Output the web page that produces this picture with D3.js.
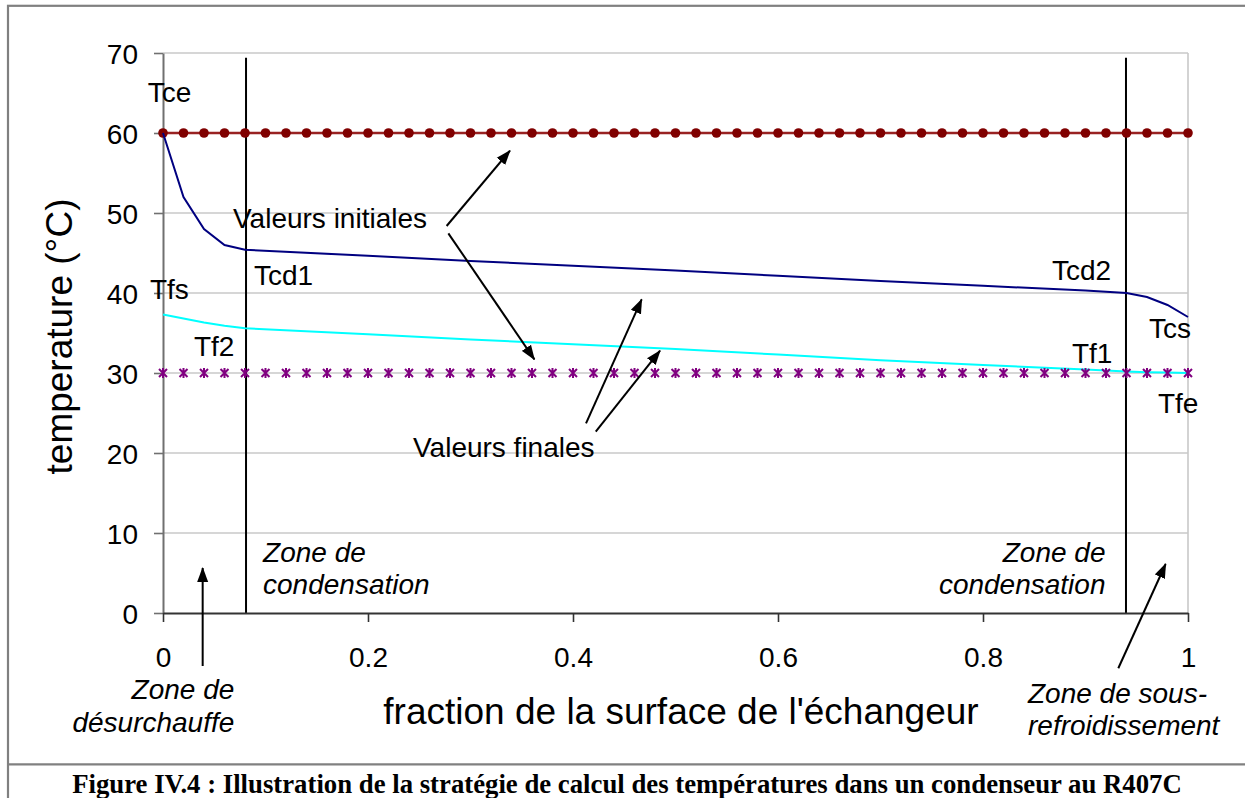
<!DOCTYPE html>
<html><head><meta charset="utf-8">
<script src="https://cdn.jsdelivr.net/npm/d3@7"></script>
<style>body{margin:0;background:#fff;} svg{display:block}</style>
</head><body>
<svg id="c" width="1245" height="798"></svg>
<script>
// ---------- data ----------
const fracX = [0,0.02,0.04,0.06,0.08,0.1,0.12,0.14,0.16,0.18,0.2,0.22,0.24,0.26,0.28,0.3,0.32,0.34,0.36,0.38,0.4,0.42,0.44,0.46,0.48,0.5,0.52,0.54,0.56,0.58,0.6,0.62,0.64,0.66,0.68,0.7,0.72,0.74,0.76,0.78,0.8,0.82,0.84,0.86,0.88,0.9,0.92,0.94,0.96,0.98,1];
const tcInit = [60,60,60,60,60,60,60,60,60,60,60,60,60,60,60,60,60,60,60,60,60,60,60,60,60,60,60,60,60,60,60,60,60,60,60,60,60,60,60,60,60,60,60,60,60,60,60,60,60,60,60];
const tfInit = [30,30,30,30,30,30,30,30,30,30,30,30,30,30,30,30,30,30,30,30,30,30,30,30,30,30,30,30,30,30,30,30,30,30,30,30,30,30,30,30,30,30,30,30,30,30,30,30,30,30,30];
const finalX = [0,0.02,0.04,0.06,0.08,0.2,0.3,0.4,0.5,0.6,0.7,0.8,0.9,0.94,0.96,0.98,1];
const tcFinal = [60,52,48,46,45.4,44.65,44.0,43.4,42.8,42.15,41.5,40.9,40.3,40.0,39.5,38.5,37.0];
const tfFinal = [37.3,36.8,36.3,35.9,35.6,34.85,34.2,33.6,33.0,32.3,31.6,31.0,30.45,30.2,30.1,30.05,30.0];
const xTicks = [0,0.2,0.4,0.6,0.8,1];
const yTicks = [0,10,20,30,40,50,60,70];
const zoneBounds = [0.081,0.9395];
const zoneTop = 69.4;
// text annotations in data coordinates: [text, x, y, anchor, italic]
const labels = [
  ["Tce",-0.0149,63.84,"start",false],
  ["Tcd1",0.0888,41.0,"start",false],
  ["Tfs",-0.0127,39.25,"start",false],
  ["Tf2",0.0302,32.1,"start",false],
  ["Tcd2",0.8673,41.6,"start",false],
  ["Tcs",0.962,34.4,"start",false],
  ["Tf1",0.8868,31.25,"start",false],
  ["Tfe",0.9707,25.0,"start",false],
  ["Valeurs initiales",0.0683,48.1,"start",false],
  ["Valeurs finales",0.2439,19.5,"start",false],
  ["Zone de",0.0976,6.41,"start",true],
  ["condensation",0.0976,2.375,"start",true],
  ["Zone de",0.9195,6.41,"end",true],
  ["condensation",0.9195,2.375,"end",true],
  ["Zone de",0.0696,-10.75,"end",true],
  ["désurchauffe",0.0696,-14.84,"end",true],
  ["Zone de sous-",0.8439,-11.2,"start",true],
  ["refroidissement",0.8439,-15.2,"start",true]
];
// arrows in data coordinates: [x0,y0,x1(tip),y1(tip)]
const arrows = [
  [0.2767,48.375,0.3385,57.79],
  [0.2784,47.46,0.3623,31.71],
  [0.4127,23.71,0.467,39.21],
  [0.4222,22.66,0.4849,32.79],
  [0.0387,-6.625,0.0387,5.625],
  [0.932,-6.91,0.9782,6.125]
];
const xTitle = "fraction de la surface de l'échangeur";
const yTitle = "temperature (°C)";
const caption = "Figure IV.4 : Illustration de la stratégie de calcul des températures dans un condenseur au R407C";

// ---------- drawing ----------
const svg = d3.select("#c");
const W = 1245, H = 798;
const x = d3.scaleLinear([0,1],[163,1188]);
const y = d3.scaleLinear([0,70],[613,53]);
const sans = "'Liberation Sans', Arial, sans-serif";

// frame
svg.append("rect").attr("x",8).attr("y",5.8).attr("width",1260).attr("height",900)
  .attr("fill","none").attr("stroke","#808080").attr("stroke-width",2.2);
svg.append("line").attr("x1",8).attr("x2",W).attr("y1",764.3).attr("y2",764.3)
  .attr("stroke","#808080").attr("stroke-width",2.2);

// gridlines
svg.append("g").selectAll("line").data(yTicks.filter(d=>d>0)).join("line")
  .attr("x1",x(0)).attr("x2",x(1)).attr("y1",d=>y(d)).attr("y2",d=>y(d))
  .attr("stroke","#c8c8c8").attr("stroke-width",1.6);
svg.append("line").attr("x1",x(1)).attr("x2",x(1)).attr("y1",y(70)).attr("y2",y(0))
  .attr("stroke","#c8c8c8").attr("stroke-width",1.6);

// zone boundaries
svg.append("g").selectAll("line").data(zoneBounds).join("line")
  .attr("x1",d=>x(d)).attr("x2",d=>x(d)).attr("y1",y(zoneTop)).attr("y2",y(0))
  .attr("stroke","#000").attr("stroke-width",2);

// axes
const gy = svg.append("g").attr("transform",`translate(${x(0)},0)`)
  .call(d3.axisLeft(y).tickValues(yTicks).tickSize(9).tickSizeOuter(0).tickPadding(16).tickFormat(d3.format("d")));
gy.select(".domain").attr("stroke","#707070").attr("stroke-width",2);
gy.selectAll(".tick line").attr("stroke","#707070").attr("stroke-width",1.6);
gy.selectAll("text").attr("font-family",sans).attr("font-size",28).attr("fill","#000").attr("dy","0.37em");

const gx = svg.append("g").attr("transform",`translate(0,${y(0)})`)
  .call(d3.axisBottom(x).tickValues(xTicks).tickSize(9).tickSizeOuter(0).tickPadding(25).tickFormat(d=>String(d)));
gx.select(".domain").attr("stroke","#333").attr("stroke-width",1.8);
gx.selectAll(".tick line").attr("stroke","#333").attr("stroke-width",1.6);
gx.selectAll("text").attr("font-family",sans).attr("font-size",28).attr("fill","#000");

// series: initial Tc (dark red with dots)
const initC = fracX.map((v,i)=>[v,tcInit[i]]);
const initF = fracX.map((v,i)=>[v,tfInit[i]]);
const line = d3.line().x(d=>x(d[0])).y(d=>y(d[1]));
svg.append("path").datum(initC).attr("d",line).attr("fill","none")
  .attr("stroke","#992222").attr("stroke-width",2.5);
svg.append("g").selectAll("circle").data(initC).join("circle")
  .attr("cx",d=>x(d[0])).attr("cy",d=>y(d[1])).attr("r",4.8).attr("fill","#800000");

// final curves
svg.append("path").datum(finalX.map((v,i)=>[v,tfFinal[i]])).attr("d",line).attr("fill","none")
  .attr("stroke","#00ffff").attr("stroke-width",2);
svg.append("path").datum(finalX.map((v,i)=>[v,tcFinal[i]])).attr("d",line).attr("fill","none")
  .attr("stroke","#000080").attr("stroke-width",2);

// initial Tf (purple stars)
svg.append("g").selectAll("path").data(initF).join("path")
  .attr("transform",d=>`translate(${x(d[0])},${y(d[1])})`)
  .attr("d","M-4,-4L4,4M-4,4L4,-4M0,-5L0,5")
  .attr("stroke","#800080").attr("stroke-width",2).attr("fill","none");

// labels
svg.append("g").selectAll("text").data(labels).join("text")
  .attr("x",d=>x(d[1])).attr("y",d=>y(d[2])).attr("text-anchor",d=>d[3])
  .attr("font-style",d=>d[4]?"italic":"normal")
  .attr("font-family",sans).attr("font-size",28).attr("fill","#000")
  .text(d=>d[0]);

// arrows
const defs = svg.append("defs");
defs.append("marker").attr("id","ah").attr("markerUnits","userSpaceOnUse")
  .attr("viewBox","0 -6 15 12").attr("refX",14).attr("refY",0)
  .attr("markerWidth",15).attr("markerHeight",12).attr("orient","auto")
  .append("path").attr("d","M0,-5.5L15,0L0,5.5Z").attr("fill","#000");
svg.append("g").selectAll("line").data(arrows).join("line")
  .attr("x1",d=>x(d[0])).attr("y1",d=>y(d[1])).attr("x2",d=>x(d[2])).attr("y2",d=>y(d[3]))
  .attr("stroke","#000").attr("stroke-width",2).attr("marker-end","url(#ah)");

// axis titles
svg.append("text").attr("x",681).attr("y",724).attr("text-anchor","middle")
  .attr("font-family",sans).attr("font-size",37).text(xTitle);
svg.append("text").attr("transform","translate(72,336.5) rotate(-90)").attr("text-anchor","middle")
  .attr("font-family",sans).attr("font-size",37).text(yTitle);

// caption
const cap = svg.append("text").attr("x",627).attr("y",793).attr("text-anchor","middle")
  .attr("font-family","'Liberation Serif','Times New Roman',serif").attr("font-weight","bold")
  .attr("font-size",25).text(caption);
const len = cap.node().getComputedTextLength();
if (len > 0) cap.attr("font-size", Math.max(20, Math.min(28, 25*1110/len)));
</script>
</body></html>
